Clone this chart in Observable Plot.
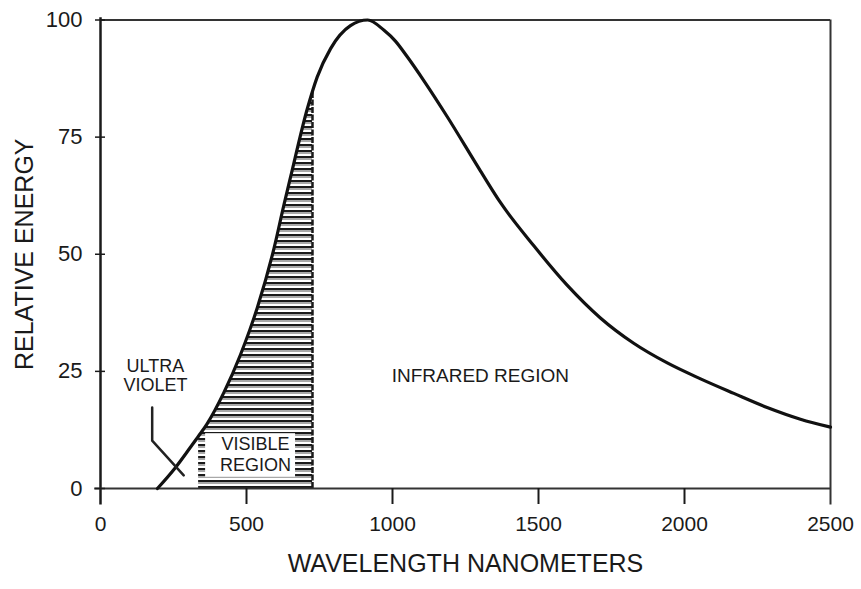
<!DOCTYPE html>
<html>
<head>
<meta charset="utf-8">
<script src="https://cdn.jsdelivr.net/npm/d3@7"></script>
<script src="https://cdn.jsdelivr.net/npm/@observablehq/plot@0.6"></script>
<style>
  html, body { margin: 0; padding: 0; background: #fff; }
</style>
</head>
<body>
<div id="chart"></div>
<script>
// ---- data ----
const wavelength = [195, 257, 308, 336, 365, 422, 479, 537, 594, 628, 651, 708, 726, 742, 788, 856, 915, 971, 1010, 1050, 1110, 1187, 1301, 1370, 1484, 1598, 1712, 1826, 1941, 2055, 2169, 2283, 2397, 2500];
const energy     = [0, 4.5, 8.8, 11.2, 13.8, 20.4, 28.5, 38.6, 51.2, 60.5, 66.5, 81, 84.8, 87.8, 93.9, 98.8, 100, 97.8, 95.5, 92.2, 86.8, 79.4, 67.8, 61, 51.8, 43.4, 36.4, 31, 26.8, 23.4, 20.3, 17.3, 14.8, 13.1];

const xTicks = [0, 500, 1000, 1500, 2000, 2500];
const yTicks = [0, 25, 50, 75, 100];

const visibleStart = 336;   // nm
const visibleEnd = 726;     // nm

// UV leader line (nm, energy)
const leaderX = [177, 177, 285];
const leaderY = [17.3, 10.2, 2.8];

// label box inside the visible band
const visibleBox = [{x1: 360, x2: 668, y1: 2.4, y2: 11.7}];

const labels = [
  {x: 188, y: 26.2, text: "ULTRA", size: 18},
  {x: 188, y: 22.1, text: "VIOLET", size: 18},
  {x: 531, y: 9.4, text: "VISIBLE", size: 18},
  {x: 531, y: 4.9, text: "REGION", size: 18},
  {x: 1301, y: 24.1, text: "INFRARED REGION", size: 19}
];

// ---- build ----
const curve = wavelength.map((w, i) => ({w, e: energy[i]}));
const visible = curve.filter(d => d.w >= visibleStart && d.w <= visibleEnd);
const visibleTop = visible[visible.length - 1].e;

const FONT = "'Liberation Sans', Arial, Helvetica, sans-serif";
const INK = "#1a1a1a";

const svg = Plot.plot({
  width: 861,
  height: 589,
  marginLeft: 100,
  marginRight: 31,
  marginTop: 19.5,
  marginBottom: 101,
  x: {domain: [0, 2500]},
  y: {domain: [0, 100]},
  style: {fontFamily: FONT, background: "#fff", color: INK},
  marks: [
    // hatched visible band
    Plot.areaY(visible, {x: "w", y: "e", fill: "url(#hatch)", curve: "monotone-x"}),
    Plot.rect(visibleBox, {x1: "x1", x2: "x2", y1: "y1", y2: "y2", fill: "#fff"}),
    Plot.ruleX([visibleEnd], {y1: 0, y2: visibleTop, stroke: INK, strokeWidth: 2.5, strokeDasharray: "6,1.5"}),
    // frame
    Plot.ruleY([100], {x1: 0, x2: 2500, stroke: "#333", strokeWidth: 2.2}),
    Plot.ruleX([2500], {y1: -3.5, y2: 100, stroke: "#333", strokeWidth: 2}),
    Plot.ruleX([0], {y1: -3.5, y2: 100.5, stroke: INK, strokeWidth: 2.5}),
    Plot.ruleY([0], {x1: -20, x2: 2500, stroke: "#333", strokeWidth: 2}),
    // axes
    Plot.axisX(xTicks.slice(1, -1), {tickSize: 16, tickPadding: 0, tickFormat: () => "", strokeWidth: 2}),
    Plot.axisX(xTicks, {tickSize: 0, tickPadding: 28, fontSize: 21, label: null, fill: INK, tickFormat: d => String(d)}),
    Plot.axisY(yTicks, {tickSize: 10, dx: 5, tickFormat: () => "", strokeWidth: 1.5, label: null}),
    Plot.axisY(yTicks, {tickSize: 0, tickPadding: 18, fontSize: 22, label: null, fill: INK, tickFormat: d => String(d)}),
    Plot.text(["WAVELENGTH NANOMETERS"], {frameAnchor: "bottom", dy: 83, fontSize: 25, fill: INK}),
    Plot.text(["RELATIVE ENERGY"], {frameAnchor: "left", textAnchor: "middle", dx: -76, rotate: -90, fontSize: 25, fill: INK}),
    // curve
    Plot.line(curve, {x: "w", y: "e", stroke: "#111", strokeWidth: 3.2, curve: "monotone-x"}),
    // UV leader
    Plot.line(leaderX.map((x, i) => ({x, y: leaderY[i]})), {x: "x", y: "y", stroke: "#222", strokeWidth: 2.5}),
    // annotations
    Plot.text(labels, {x: "x", y: "y", text: "text", fontSize: d => d.size, fill: INK})
  ]
});

const defs = d3.select(svg).insert("defs", ":first-child");
const pat = defs.append("pattern")
  .attr("id", "hatch")
  .attr("patternUnits", "userSpaceOnUse")
  .attr("width", 8)
  .attr("height", 6);
pat.append("rect").attr("width", 8).attr("height", 6).attr("fill", "#fff");
pat.append("rect").attr("y", 0).attr("width", 8).attr("height", 2).attr("fill", "#1a1a1a");
pat.append("rect").attr("y", 2).attr("width", 8).attr("height", 2).attr("fill", "#a8a8a8");

document.getElementById("chart").appendChild(svg);
</script>
</body>
</html>
